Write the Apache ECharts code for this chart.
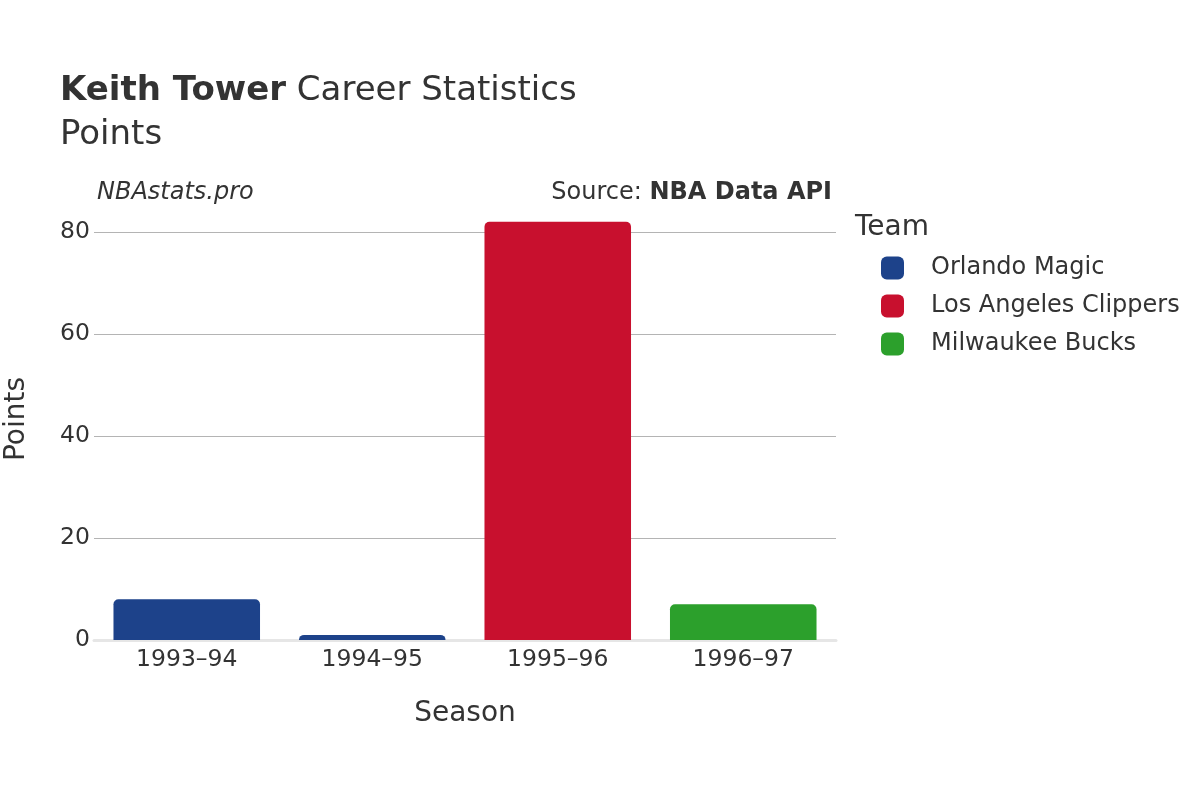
<!DOCTYPE html>
<html>
<head>
<meta charset="utf-8">
<script src="https://cdn.jsdelivr.net/npm/echarts@6/dist/echarts.min.js"></script>
<style>
  html, body { margin: 0; padding: 0; background: #fff; }
  #chart { width: 1200px; height: 800px; }
</style>
</head>
<body>
<div id="chart"></div>
<script>
var seasons = ['1993\u201394', '1994\u201395', '1995\u201396', '1996\u201397'];
var teams = ['Orlando Magic', 'Los Angeles Clippers', 'Milwaukee Bucks'];
var teamColors = ['#1d428a', '#c8102e', '#2ca02c'];
var magicPoints = [8, 1, '-', '-'];
var clippersPoints = ['-', '-', 82, '-'];
var bucksPoints = ['-', '-', '-', 7];
var yTicks = [0, 20, 40, 60, 80];

var font = 'DejaVu Sans';
var chart = echarts.init(document.getElementById('chart'));

function teamSeries(i, data) {
    return {
        name: teams[i],
        type: 'bar',
        data: data,
        barWidth: '79%',
        barGap: '-100%',
        clip: false,
        itemStyle: { color: teamColors[i], borderRadius: [5, 5, 0, 0] }
    };
}

var option = {
    backgroundColor: '#fff',
    textStyle: { fontFamily: font },
    animation: false,
    grid: { left: 94, right: 364, top: 232, bottom: 160 },
    graphic: [
        {
            type: 'text', left: 60, top: 74,
            style: {
                rich: {
                    b: { fontFamily: font, fontSize: 34, fontWeight: 'bold', fill: '#333' },
                    n: { fontFamily: font, fontSize: 34, fill: '#333' }
                },
                text: '{b|Keith Tower}{n| Career Statistics}'
            }
        },
        { type: 'text', left: 60, top: 118, style: { text: 'Points', fontFamily: font, fontSize: 34, fill: '#333' } },
        { type: 'text', left: 97, top: 181, style: { text: 'NBAstats.pro', fontFamily: font, fontSize: 24, fontStyle: 'italic', fill: '#333' } },
        {
            type: 'text', right: 368, top: 181,
            style: {
                rich: {
                    n: { fontFamily: font, fontSize: 24, fill: '#333' },
                    b: { fontFamily: font, fontSize: 24, fontWeight: 'bold', fill: '#333' }
                },
                text: '{n|Source: }{b|NBA Data API}'
            }
        },
        { type: 'text', left: 855, top: 214, style: { text: 'Team', fontFamily: font, fontSize: 28, fill: '#333' } },
        {
            type: 'text', x: 17, y: 419, rotation: Math.PI / 2,
            style: { text: 'Points', fontFamily: font, fontSize: 28, fill: '#333', align: 'center', verticalAlign: 'middle' }
        }
    ],
    legend: {
        orient: 'vertical',
        left: 876,
        top: 251,
        itemWidth: 23,
        itemHeight: 23,
        itemGap: 14,
        icon: 'roundRect',
        textStyle: { fontFamily: font, fontSize: 24, color: '#333', padding: [0, 0, 0, 22] },
        data: teams
    },
    xAxis: {
        type: 'category',
        data: seasons,
        name: 'Season',
        nameLocation: 'middle',
        nameGap: 60,
        nameTextStyle: { fontFamily: font, fontSize: 28, color: '#333' },
        axisLine: { show: true, lineStyle: { color: '#e6e6e6', width: 3 } },
        axisTick: { show: false },
        axisLabel: { fontFamily: font, fontSize: 23.5, color: '#333', margin: 8 }
    },
    yAxis: {
        type: 'value',
        min: yTicks[0],
        max: yTicks[yTicks.length - 1],
        interval: 20,
        axisLine: { show: false },
        axisTick: { show: false },
        axisLabel: { fontFamily: font, fontSize: 23.5, color: '#333', margin: 4 },
        splitLine: { lineStyle: { color: '#b4b4b4', width: 1 } }
    },
    series: [
        teamSeries(0, magicPoints),
        teamSeries(1, clippersPoints),
        teamSeries(2, bucksPoints)
    ]
};
chart.setOption(option);
</script>
</body>
</html>
